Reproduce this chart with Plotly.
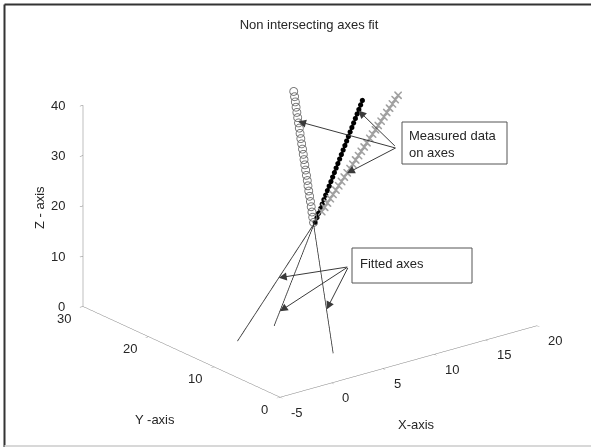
import plotly.graph_objects as go

# ---------------- data ----------------
# measured data on axis 1 (open circles)
circ_x = [6.80, 6.91, 7.02, 7.14, 7.25, 7.36, 7.47, 7.58, 7.70, 7.81, 7.92, 8.03, 8.14,
          8.26, 8.37, 8.48, 8.59, 8.70, 8.82, 8.93, 9.04, 9.15, 9.26, 9.38, 9.49, 9.60]
circ_y = [13.40, 13.70, 13.99, 14.29, 14.58, 14.88, 15.18, 15.47, 15.77, 16.06, 16.36, 16.66, 16.95,
          17.25, 17.54, 17.84, 18.14, 18.43, 18.73, 19.02, 19.32, 19.62, 19.91, 20.21, 20.50, 20.80]
circ_z = [20.0, 20.8, 21.6, 22.4, 23.2, 24.0, 24.8, 25.6, 26.4, 27.2, 28.0, 28.8, 29.6,
          30.4, 31.2, 32.0, 32.8, 33.6, 34.4, 35.2, 36.0, 36.8, 37.6, 38.4, 39.2, 40.0]

# measured data on axis 2 (black dots)
dot_x = [8.00, 8.17, 8.34, 8.51, 8.68, 8.85, 9.02, 9.19, 9.36, 9.53, 9.70, 9.87, 10.04, 10.21,
         10.38, 10.55, 10.72, 10.89, 11.06, 11.23, 11.40, 11.57, 11.74, 11.91, 12.08, 12.25, 12.42, 12.59]
dot_y = [15.0] * 28
dot_z = [18.4, 19.2, 20.0, 20.8, 21.6, 22.4, 23.2, 24.0, 24.8, 25.6, 26.4, 27.2, 28.0, 28.8,
         29.6, 30.4, 31.2, 32.0, 32.8, 33.6, 34.4, 35.2, 36.0, 36.8, 37.6, 38.4, 39.2, 40.0]

# measured data on axis 3 (x markers)
xm_x = [8.00, 8.28, 8.55, 8.83, 9.10, 9.38, 9.65, 9.93, 10.20, 10.48, 10.75, 11.03, 11.30, 11.58,
        11.85, 12.13, 12.40, 12.68, 12.95, 13.23, 13.50, 13.78, 14.05, 14.33, 14.60, 14.88, 15.15, 15.43]
xm_y = [14.0] * 28
xm_z = [21.1, 21.8, 22.5, 23.2, 23.9, 24.6, 25.3, 26.0, 26.7, 27.4, 28.1, 28.8, 29.5, 30.2,
        30.9, 31.6, 32.3, 33.0, 33.7, 34.4, 35.1, 35.8, 36.5, 37.2, 37.9, 38.6, 39.3, 40.0]

# fitted axes (line end points)
fit1_x, fit1_y, fit1_z = [4.00, 6.80], [6.0, 13.4], [0.0, 20.0]
fit2_x, fit2_y, fit2_z = [4.00, 7.96], [15.0, 15.0], [0.0, 18.4]
fit3_x, fit3_y, fit3_z = [-0.20, 8.03], [14.0, 14.0], [0.0, 21.1]

# arrow target points (on measured data / fitted axes)
meas_pts = [(8.96, 19.10, 35.4), (12.21, 15.0, 38.2), (10.45, 14.0, 27.3)]
fit_pts = [(3.82, 14.0, 10.3), (4.56, 15.0, 2.6), (4.94, 8.47, 6.68)]

x_ticks = [-5, 0, 5, 10, 15, 20]
y_ticks = [0, 10, 20, 30]
z_ticks = [0, 10, 20, 30, 40]
x_range, y_range, z_range = [-5, 20], [0, 30], [0, 40]

W, H = 591, 447
FONT = "Liberation Sans, Arial, Helvetica, sans-serif"
TXT = "#262626"

fig = go.Figure()
fig.add_trace(go.Scatter3d(x=circ_x, y=circ_y, z=circ_z, mode="markers",
                           marker=dict(symbol="circle-open", size=5, color="#707070")))
fig.add_trace(go.Scatter3d(x=dot_x, y=dot_y, z=dot_z, mode="markers",
                           marker=dict(symbol="circle", size=3, color="#000000")))
fig.add_trace(go.Scatter3d(x=xm_x, y=xm_y, z=xm_z, mode="markers",
                           marker=dict(symbol="x", size=1.8, color="#a0a0a0")))
for fx, fy, fz in [(fit1_x, fit1_y, fit1_z), (fit2_x, fit2_y, fit2_z), (fit3_x, fit3_y, fit3_z)]:
    fig.add_trace(go.Scatter3d(x=fx, y=fy, z=fz, mode="lines",
                               line=dict(color="#2a2a2a", width=1.5)))

axis_common = dict(showgrid=False, zeroline=False, showbackground=False, showspikes=False,
                   showline=True, linecolor="#808080", linewidth=1,
                   ticks="inside", ticklen=4, tickcolor="#808080",
                   showticklabels=False, title=dict(text=""), autorange=False)

scene_ann = []
# arrows
meas_off = [(99, 27), (38, 37), (50, -26)]
fit_off = [(70, -11), (69, -45), (22, -43)]
for (px, py, pz), (axo, ayo) in list(zip(meas_pts, meas_off)) + list(zip(fit_pts, fit_off)):
    scene_ann.append(dict(x=px, y=py, z=pz, text="", showarrow=True, ax=axo, ay=ayo,
                          arrowhead=2, arrowsize=1.6, arrowwidth=1, arrowcolor="#3a3a3a",
                          standoff=0))
# tick labels (horizontal, as in the reference)
tf = dict(family=FONT, size=13, color=TXT)
for v in x_ticks:
    scene_ann.append(dict(x=v, y=y_range[0], z=z_range[0], text=str(v), showarrow=False,
                          xanchor="left", yanchor="middle", xshift=9, yshift=-15, font=tf))
for v in y_ticks:
    scene_ann.append(dict(x=x_range[0], y=v, z=z_range[0], text=str(v), showarrow=False,
                          xanchor="right", yanchor="middle", xshift=-10, yshift=-12, font=tf))
for v in z_ticks:
    scene_ann.append(dict(x=x_range[0], y=y_range[1], z=v, text=str(v), showarrow=False,
                          xanchor="right", yanchor="middle", xshift=-16, yshift=0, font=tf))

fig.update_layout(
    width=W, height=H, margin=dict(l=0, r=0, t=0, b=0),
    paper_bgcolor="white", showlegend=False,
    title=dict(text="Non intersecting axes fit", x=309 / W, xanchor="center",
               y=1 - 24 / H, yanchor="middle", yref="container",
               font=dict(family=FONT, size=13, color=TXT)),
    scene=dict(
        domain=dict(x=[0.049, 1.0], y=[0.036, 1.0]),
        xaxis=dict(range=x_range, tickvals=x_ticks, **axis_common),
        yaxis=dict(range=y_range, tickvals=y_ticks, **axis_common),
        zaxis=dict(range=z_range, tickvals=z_ticks, **axis_common),
        aspectmode="manual", aspectratio=dict(x=1.51, y=1.49, z=1.0),
        camera=dict(projection=dict(type="orthographic"),
                    eye=dict(x=-0.573 * 2.0, y=-0.737 * 2.0, z=0.358 * 2.0),
                    up=dict(x=0, y=0, z=1), center=dict(x=0, y=0, z=0)),
        annotations=scene_ann,
    ),
    shapes=[
        dict(type="line", xref="paper", yref="paper", x0=4.5 / W, x1=1, y0=1 - 4.5 / H, y1=1 - 4.5 / H,
             line=dict(color="#333333", width=2)),
        dict(type="line", xref="paper", yref="paper", x0=4.5 / W, x1=4.5 / W, y0=0, y1=1 - 4.5 / H,
             line=dict(color="#333333", width=2)),
        dict(type="line", xref="paper", yref="paper", x0=4.5 / W, x1=1, y0=1 - 446 / H, y1=1 - 446 / H,
             line=dict(color="#d8d8d8", width=2)),
        dict(type="rect", xref="paper", yref="paper", x0=402 / W, x1=507 / W, y0=1 - 164 / H, y1=1 - 122 / H,
             line=dict(color="#555555", width=1), fillcolor="white"),
        dict(type="rect", xref="paper", yref="paper", x0=352 / W, x1=472 / W, y0=1 - 283 / H, y1=1 - 248 / H,
             line=dict(color="#555555", width=1), fillcolor="white"),
    ],
    annotations=[
        dict(text="Measured data<br>on axes", xref="paper", yref="paper", x=407 / W, y=1 - 144.2 / H,
             xanchor="left", yanchor="middle", align="left", showarrow=False,
             font=dict(family=FONT, size=13, color=TXT)),
        dict(text="Fitted axes", xref="paper", yref="paper", x=358 / W, y=1 - 263.5 / H,
             xanchor="left", yanchor="middle", align="left", showarrow=False,
             font=dict(family=FONT, size=13, color=TXT)),
        dict(text="X-axis", xref="paper", yref="paper", x=416 / W, y=1 - 424 / H,
             xanchor="center", yanchor="middle", showarrow=False,
             font=dict(family=FONT, size=13, color=TXT)),
        dict(text="Y -axis", xref="paper", yref="paper", x=155 / W, y=1 - 419 / H,
             xanchor="center", yanchor="middle", showarrow=False,
             font=dict(family=FONT, size=13, color=TXT)),
        dict(text="Z - axis", xref="paper", yref="paper", x=40 / W, y=1 - 208 / H, textangle=-90,
             xanchor="center", yanchor="middle", showarrow=False,
             font=dict(family=FONT, size=13, color=TXT)),
    ],
)

fig.write_html("out.html", config={"displayModeBar": False},
               post_script="document.body.style.margin='0px';")
